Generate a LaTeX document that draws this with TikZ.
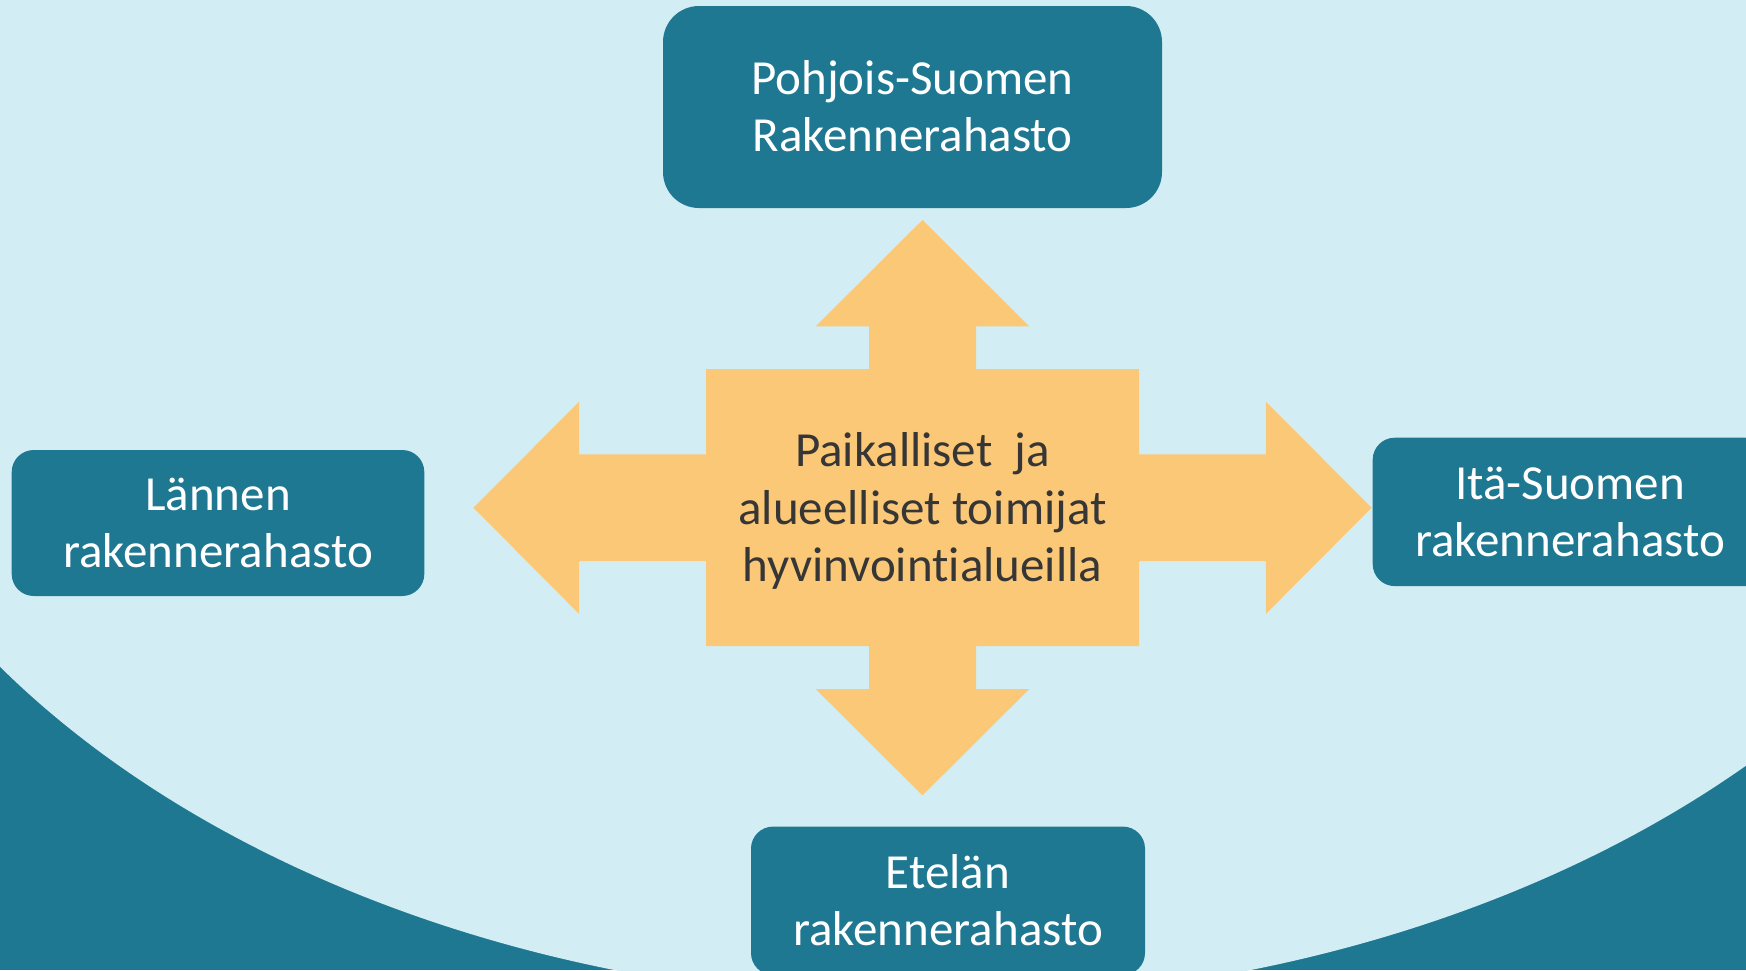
\documentclass[tikz,border=0pt]{standalone}
\usepackage{fontspec}
\setmainfont{Carlito}[Ligatures={NoCommon}]
\definecolor{bgl}{HTML}{D2EEF4}
\definecolor{tealbox}{HTML}{1F7891}
\definecolor{arroworange}{HTML}{FBC878}
\definecolor{centertext}{HTML}{363636}
\begin{document}
\begin{tikzpicture}[x=0.5pt,y=-0.5pt,
  fundbox/.style={fill=tealbox, text=white, align=center, inner sep=0pt,
    font=\fontsize{24.5pt}{28.6pt}\selectfont, text height=44.4pt, text depth=0pt},
  centerlabel/.style={text=centertext, align=center, inner sep=0pt,
    font=\fontsize{24.5pt}{28.6pt}\selectfont, text height=73pt, text depth=0pt}]
\useasboundingbox (0,0) rectangle (1746,970);
\clip (0,0) rectangle (1746,970);
% background
\fill[tealbox] (0,0) rectangle (1746,970);
\fill[bgl] (932.5,225) ellipse [x radius=567pt, y radius=388pt];
% four-way arrow
\fill[arroworange] (922.5,220) -- (1029.2,326.3) -- (976,326.3) -- (976,369) -- (1139,369)
  -- (1139,454.3) -- (1265.8,454.3) -- (1265.8,401.7) -- (1371.6,507.7) -- (1265.8,614)
  -- (1265.8,561) -- (1139,561) -- (1139,646) -- (976,646) -- (976,689.1) -- (1029.2,689.1)
  -- (922.5,795.4) -- (815.8,689.1) -- (869,689.1) -- (869,646) -- (706,646) -- (706,561)
  -- (579.2,561) -- (579.2,614) -- (473.4,507.7) -- (579.2,401.7) -- (579.2,454.3)
  -- (706,454.3) -- (706,369) -- (869,369) -- (869,326.3) -- (815.8,326.3) -- cycle;
\node[centerlabel] (center) at (922.5,508.2) {Paikalliset\ \ ja\\alueelliset toimijat\\hyvinvointialueilla};
% boxes
\node[fundbox, minimum width=249.5pt, minimum height=101pt, rounded corners=18pt] (north) at (912.5,107) {Pohjois-Suomen\\Rakennerahasto};
\node[fundbox, minimum width=206.3pt, minimum height=73pt, rounded corners=11pt] (west) at (218,523) {Lännen\\rakennerahasto};
\node[fundbox, minimum width=197.3pt, minimum height=74.2pt, rounded corners=11pt] (east) at (1570,511.9) {Itä-Suomen\\rakennerahasto};
\node[fundbox, minimum width=197pt, minimum height=74.2pt, rounded corners=11pt] (south) at (948,900.8) {Etelän\\rakennerahasto};
\end{tikzpicture}
\end{document}
